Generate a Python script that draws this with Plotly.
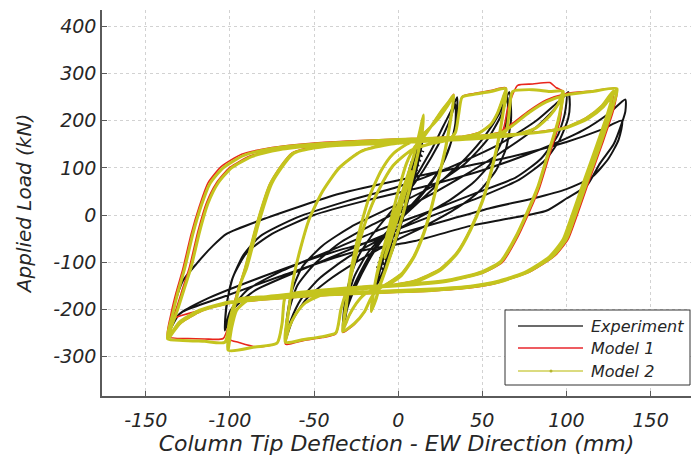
import plotly.graph_objects as go

# ---------------------------------------------------------------------------
# Cyclic column test: tip deflection (mm) vs. applied load (kN)
# Each path is listed as (deflection, load) readings in loading order.
# ---------------------------------------------------------------------------

# Experiment: low-amplitude elastic cycles (dense hatch near the origin)
EXP_HATCH = [
    (-13.1, -110), (-8.7, -116), (-12.1, -100), (-7.7, -106), (-11.2, -90), (-6.7, -96),
    (-10.2, -80), (-5.8, -86), (-9.2, -70), (-4.8, -76), (-8.3, -60), (-3.8, -66),
    (-7.3, -50), (-2.9, -56), (-6.3, -40), (-1.9, -46), (-5.4, -30), (-1.0, -36),
    (-4.4, -20), (0.0, -26), (-3.5, -10), (1.0, -16), (-2.5, 0), (1.9, -6),
    (-1.5, 10), (2.9, 4), (-0.6, 20), (3.8, 14), (0.4, 30), (4.8, 24),
    (1.3, 40), (5.8, 34), (2.3, 50), (6.7, 44), (3.3, 60), (7.7, 54),
    (4.2, 70), (8.7, 64), (5.2, 80), (9.6, 74), (6.2, 90), (10.6, 84),
    (7.1, 100), (11.5, 94), (8.1, 110), (12.5, 104), (9.0, 120), (13.5, 114),
    (10.0, 130), (14.4, 124), (11.0, 140), (15.4, 134),
]

# Experiment: main hysteresis path
EXP_PATH = [
    (0, 0), (4, 60), (8, 115), (6, 80), (2, 20), (-2, -30), (-6, -80), (-8, -110),
    (-5, -70), (-1, -15), (3, 40), (8, 112), (5, 70), (1, 10), (-3, -45), (-8, -108),
    (-4, -55), (0, 0),
    # +/-15 mm
    (4, 55), (9, 110), (13, 150), (15, 170), (13, 130), (9, 70), (5, 20), (0, -40),
    (-5, -90), (-10, -130), (-14, -155), (-11, -110), (-6, -50), (-1, 10), (5, 70),
    (10, 125), (14, 165), (12, 120), (8, 60), (3, 0), (-2, -55), (-8, -110), (-13, -150),
    # +/-33 mm
    (-9, -95), (-3, -30), (4, 40), (12, 90), (20, 140), (27, 190), (32, 225), (35, 250),
    (35, 215), (33, 175), (28, 120), (20, 70), (10, 25), (0, -15), (-10, -55), (-18, -100),
    (-25, -150), (-30, -195), (-33, -240),
    (-32, -195), (-29, -140), (-24, -90), (-16, -45), (-6, 0), (5, 45), (15, 95), (24, 150),
    (30, 195), (34, 235),
    (34, 195), (31, 150), (25, 100), (15, 50), (5, 10), (-5, -30), (-15, -75), (-23, -125),
    (-29, -175), (-32, -230),
    # +/-67 mm
    (-30, -180), (-26, -130), (-18, -80), (-5, -30), (10, 20), (25, 70), (40, 120), (52, 170),
    (60, 215), (66, 261),
    (67, 230), (67, 200), (64, 140), (58, 94), (48, 50), (35, 15), (15, -25), (-5, -60),
    (-25, -100), (-42, -140), (-55, -180), (-63, -225), (-67, -265),
    (-66, -215), (-63, -160), (-57, -110), (-45, -65), (-28, -25), (-5, 15), (20, 60),
    (40, 110), (53, 160), (61, 210), (65, 250),
    (65, 215), (62, 160), (55, 110), (45, 70), (30, 30), (10, -10), (-10, -50), (-30, -90),
    (-47, -135), (-58, -180), (-64, -225), (-67, -260),
    # +/-100 mm
    (-65, -205), (-60, -150), (-50, -105), (-35, -60), (-15, -20), (10, 25), (35, 75),
    (60, 130), (80, 180), (93, 225), (101, 261),
    (102, 235), (101, 205), (96, 160), (87, 115), (72, 75), (50, 40), (25, 5), (0, -30),
    (-30, -75), (-60, -120), (-85, -160), (-98, -200), (-103, -245),
    (-102, -195), (-99, -140), (-92, -85), (-82, -45), (-60, -5), (-30, 30), (0, 60),
    (30, 100), (60, 150), (82, 200), (95, 240), (100, 255),
    (99, 215), (95, 170), (85, 120), (70, 80), (45, 45), (20, 10), (-10, -30), (-40, -75),
    (-70, -120), (-90, -160), (-100, -205), (-103, -240),
    # +/-135 mm
    (-102, -190), (-98, -130), (-90, -80), (-75, -40), (-50, 0), (-20, 30), (15, 60),
    (50, 95), (85, 140), (110, 180), (125, 215), (135, 245),
    (135, 220), (133, 196), (128, 150), (120, 110), (112, 62), (100, 35), (88, 9), (65, -8),
    (43, -23), (10, -55), (-29, -81), (-70, -130), (-105, -175), (-128, -205), (-134, -225),
    (-136, -250),
    (-133, -190), (-128, -140), (-120, -104), (-110, -65), (-102, -40), (-78, -6), (-35, 45),
    (15, 85), (65, 122), (100, 155), (120, 180), (133, 200),
    (131, 160), (125, 120), (115, 80), (100, 55), (80, 35), (55, 15), (30, -10), (0, -40),
    (-40, -80), (-80, -130), (-115, -180), (-130, -210), (-135, -240),
]

# Model 1 response
MODEL1_PATH = [
    (0, 0), (4, 48), (8, 95), (4, 52), (0, 5), (-4, -42), (-8, -90), (-4, -48), (0, -3),
    (4, 46), (8, 93), (4, 50), (0, 4), (-4, -43), (-8, -92), (-4, -49), (-1, -2),
    # +/-15 mm
    (3, 55), (8, 110), (11, 150), (13, 180), (15, 212), (14, 170), (11, 120), (7, 60),
    (3, 5), (-2, -55), (-7, -110), (-11, -150), (-13, -175), (-16, -205),
    (-14, -150), (-11, -100), (-6, -45), (-2, 0), (3, 55), (8, 110), (11, 150), (13, 180),
    (15, 210), (14, 168), (11, 118), (7, 58), (3, 3), (-2, -57), (-7, -112), (-11, -152),
    (-13, -177), (-16, -204),
    # +/-33 mm
    (-14, -150), (-10, -90), (-5, -20), (0, 50), (5, 110), (10, 146), (15, 166), (20, 191),
    (26, 223), (30, 241), (33, 256),
    (31, 201), (28, 141), (24, 81), (20, 21), (15, -39), (9, -89), (2, -124), (-6, -144),
    (-12, -157), (-16, -176), (-20, -206), (-26, -232), (-33, -249),
    (-31, -201), (-29, -141), (-26, -81), (-22, -21), (-17, 39), (-10, 94), (-3, 129),
    (5, 150), (12, 164), (18, 183), (24, 206), (29, 231), (33, 253),
    (31, 199), (28, 139), (24, 79), (20, 19), (15, -41), (9, -91), (2, -127), (-6, -147),
    (-14, -157), (-20, -167), (-25, -189), (-29, -213), (-33, -246),
    # +/-67 mm
    (-31, -191), (-28, -131), (-24, -71), (-19, -11), (-12, 49), (-3, 104), (8, 138),
    (20, 153), (30, 161), (34, 176), (36, 216), (38, 251), (45, 258), (55, 264), (64, 270),
    (62, 211), (59, 151), (55, 91), (50, 31), (43, -29), (35, -79), (25, -114), (10, -139),
    (-5, -149), (-20, -155), (-30, -159), (-34, -201), (-37, -252), (-45, -260), (-56, -266),
    (-67, -274),
    (-65, -201), (-62, -131), (-58, -71), (-53, -11), (-45, 49), (-35, 101), (-22, 136),
    (-5, 151), (15, 159), (35, 165), (48, 175), (55, 193), (59, 217), (62, 246), (64, 267),
    (62, 209), (59, 149), (55, 89), (50, 29), (43, -31), (35, -81), (25, -116), (10, -141),
    (-10, -151), (-30, -158), (-45, -168), (-55, -185), (-61, -211), (-65, -241),
    (-67, -271),
    # +/-100 mm
    (-65, -201), (-62, -131), (-58, -71), (-53, -11), (-45, 49), (-35, 101), (-22, 136),
    (-5, 151), (15, 159), (35, 165), (55, 171), (62, 179), (65, 225), (71, 275), (80, 278),
    (90, 281), (94, 270), (98, 262),
    (95, 200), (89, 130), (83, 60), (77, 9), (70, -45), (61, -98), (50, -120), (30, -138),
    (5, -147), (-20, -152), (-41, -158), (-60, -165), (-67, -175), (-69, -232), (-72, -272),
    (-84, -280), (-95, -270), (-100, -264),
    (-99, -220), (-97, -180), (-94, -145), (-91, -112), (-84, -18), (-76, 68), (-63, 132),
    (-42, 148), (-10, 153), (20, 158), (50, 164), (70, 171), (82, 186), (90, 211), (95, 236),
    (98, 262),
    (96, 198), (90, 128), (84, 58), (78, 7), (71, -47), (62, -100), (51, -122), (30, -140),
    (5, -149), (-20, -154), (-41, -160), (-65, -168), (-80, -174), (-90, -182), (-96, -200),
    (-99, -235), (-100, -262),
    # +/-135 mm
    (-99, -215), (-97, -180), (-94, -145), (-90, -110), (-83, -16), (-75, 70), (-62, 133),
    (-42, 149), (-10, 154), (20, 159), (50, 165), (60, 175), (68, 195), (78, 222), (88, 244),
    (100, 258), (115, 263), (130, 268),
    (128, 225), (121, 150), (113, 70), (105, -12), (101, -49), (93, -85), (78, -119),
    (60, -140), (43, -151), (20, -157), (0, -160), (-20, -163), (-41, -166), (-70, -173),
    (-96, -180), (-100, -225), (-104, -262), (-115, -263), (-125, -262), (-137, -258),
    (-135, -210), (-132, -165), (-128, -115), (-123, -40), (-118, 20), (-113, 68),
    (-105, 103), (-93, 129), (-75, 143), (-55, 151), (-30, 157), (0, 161), (40, 167),
    (80, 175), (100, 186), (113, 207), (122, 232), (130, 267),
    (128, 223), (121, 148), (113, 68), (105, -14), (101, -51), (93, -87), (78, -121),
    (60, -142), (43, -153), (20, -159), (0, -162), (-20, -165), (-41, -168), (-70, -175),
    (-96, -183), (-115, -200), (-134, -221), (-137, -250),
    (-132, -200), (-128, -155), (-124, -110), (-119, -35), (-114, 25), (-108, 68),
    (-100, 101), (-88, 125), (-70, 140), (-50, 148), (-25, 154), (0, 159), (40, 166),
    (80, 175), (100, 187), (112, 207), (121, 232), (128, 263),
    (126, 221), (119, 147), (111, 67), (103, -15), (99, -53), (91, -89), (76, -123),
    (59, -144), (42, -155), (20, -161), (0, -164), (-20, -167), (-41, -170), (-70, -177),
    (-100, -187), (-117, -204), (-129, -229), (-136, -259),
]

# Model 2 response
MODEL2_PATH = [
    (0, 0), (4, 48), (8, 95), (4, 52), (0, 5), (-4, -42), (-8, -90), (-4, -48), (0, -3),
    (4, 46), (8, 93), (4, 50), (0, 4), (-4, -43), (-8, -92), (-4, -49), (-1, -2),
    # +/-15 mm
    (3, 55), (8, 110), (11, 150), (13, 180), (15, 212), (14, 170), (11, 120), (7, 60),
    (3, 5), (-2, -55), (-7, -110), (-11, -150), (-13, -175), (-16, -205),
    (-14, -150), (-11, -100), (-6, -45), (-2, 0), (3, 55), (8, 110), (11, 150), (13, 180),
    (15, 210), (14, 168), (11, 118), (7, 58), (3, 3), (-2, -57), (-7, -112), (-11, -152),
    (-13, -177), (-16, -204),
    # +/-33 mm
    (-14, -150), (-10, -90), (-5, -20), (0, 50), (5, 110), (10, 145), (15, 165), (20, 190),
    (26, 222), (30, 240), (33, 254),
    (31, 200), (28, 140), (24, 80), (20, 20), (15, -40), (9, -90), (2, -125), (-6, -145),
    (-12, -158), (-16, -175), (-20, -205), (-26, -230), (-33, -247),
    (-31, -200), (-29, -140), (-26, -80), (-22, -20), (-17, 40), (-10, 95), (-3, 130),
    (5, 150), (12, 163), (18, 182), (24, 205), (29, 230), (33, 252),
    (31, 198), (28, 138), (24, 78), (20, 18), (15, -42), (9, -92), (2, -128), (-6, -148),
    (-14, -158), (-20, -168), (-25, -188), (-29, -212), (-33, -245),
    # +/-67 mm
    (-31, -190), (-28, -130), (-24, -70), (-19, -10), (-12, 50), (-3, 105), (8, 138),
    (20, 152), (30, 160), (34, 175), (36, 215), (38, 250), (45, 256), (55, 262), (64, 268),
    (62, 210), (59, 150), (55, 90), (50, 30), (43, -30), (35, -80), (25, -115), (10, -140),
    (-5, -150), (-20, -156), (-30, -160), (-34, -200), (-37, -250), (-45, -258), (-56, -264),
    (-67, -270),
    (-65, -200), (-62, -130), (-58, -70), (-53, -10), (-45, 50), (-35, 100), (-22, 135),
    (-5, 150), (15, 158), (35, 164), (48, 174), (55, 192), (59, 216), (62, 245), (64, 266),
    (62, 208), (59, 148), (55, 88), (50, 28), (43, -32), (35, -82), (25, -117), (10, -142),
    (-10, -152), (-30, -159), (-45, -169), (-55, -186), (-61, -211), (-65, -240),
    (-67, -268),
    # +/-100 mm
    (-65, -200), (-62, -130), (-58, -70), (-53, -10), (-45, 50), (-35, 100), (-22, 135),
    (-5, 150), (15, 158), (35, 164), (55, 170), (64, 178), (66, 220), (68, 262), (80, 266),
    (90, 262), (98, 262),
    (95, 200), (89, 130), (83, 60), (77, 9), (70, -45), (61, -98), (50, -120), (30, -138),
    (5, -147), (-20, -152), (-41, -158), (-60, -165), (-67, -172), (-69, -230), (-72, -272),
    (-85, -280), (-101, -287),
    (-100, -240), (-97, -190), (-94, -150), (-91, -115), (-84, -20), (-76, 66), (-63, 130),
    (-42, 146), (-10, 152), (20, 157), (50, 163), (70, 170), (82, 185), (90, 210), (95, 235),
    (98, 262),
    (95, 198), (89, 128), (83, 58), (77, 7), (70, -47), (61, -100), (50, -122), (30, -140),
    (5, -149), (-20, -154), (-41, -160), (-65, -168), (-80, -174), (-90, -182), (-96, -202),
    (-99, -240), (-101, -285),
    # +/-135 mm
    (-100, -238), (-97, -188), (-94, -148), (-90, -112), (-83, -18), (-75, 68), (-62, 131),
    (-42, 147), (-10, 153), (20, 158), (50, 164), (60, 172), (68, 190), (78, 218), (88, 240),
    (100, 255), (115, 262), (130, 268),
    (127, 225), (120, 150), (112, 70), (104, -12), (100, -49), (92, -85), (77, -119),
    (60, -140), (43, -151), (20, -157), (0, -160), (-20, -163), (-41, -166), (-70, -173),
    (-96, -180), (-100, -220), (-103, -270), (-115, -268), (-128, -266), (-137, -263),
    (-134, -210), (-131, -165), (-127, -115), (-122, -40), (-117, 20), (-112, 66),
    (-104, 100), (-92, 126), (-75, 141), (-55, 149), (-30, 155), (0, 160), (40, 166),
    (80, 174), (100, 185), (113, 205), (122, 230), (130, 266),
    (127, 223), (120, 148), (112, 68), (104, -14), (100, -51), (92, -87), (77, -121),
    (60, -142), (43, -153), (20, -159), (0, -162), (-20, -165), (-41, -168), (-70, -175),
    (-101, -185), (-118, -202), (-130, -227), (-137, -262),
    (-131, -200), (-127, -155), (-123, -110), (-118, -35), (-113, 25), (-107, 68),
    (-99, 100), (-87, 124), (-70, 139), (-50, 147), (-25, 153), (0, 158), (40, 165),
    (80, 174), (100, 186), (112, 206), (121, 231), (128, 264),
    (125, 222), (118, 148), (110, 68), (102, -14), (98, -52), (90, -88), (75, -122),
    (58, -143), (41, -154), (20, -160), (0, -163), (-20, -166), (-41, -169), (-70, -176),
    (-100, -186), (-117, -203), (-129, -228), (-136, -260),
]

X_TICKS = [-150, -100, -50, 0, 50, 100, 150]
X_TICK_TEXT = ["-150", "-100", "-50", "0", "50", "100", "150"]
Y_TICKS = [-300, -200, -100, 0, 100, 200, 300, 400]
Y_TICK_TEXT = ["-300", "-200", "-100", "0", "100", "200", "300", "400"]
LEGEND_NAMES = ["Experiment", "Model 1", "Model 2"]

EXP_COLOR = "#141414"
M1_COLOR = "#e8261c"
M2_COLOR = "#c4c41e"
AXIS_COLOR = "#5a5a5a"
TEXT_COLOR = "#262626"
FONT = "DejaVu Sans, Liberation Sans, sans-serif"


def xs(path):
    return [p[0] for p in path]


def ys(path):
    return [p[1] for p in path]


fig = go.Figure()
fig.add_trace(go.Scatter(x=xs(EXP_HATCH), y=ys(EXP_HATCH), mode="lines",
                         line=dict(color=EXP_COLOR, width=1.2), showlegend=False,
                         hoverinfo="skip"))
fig.add_trace(go.Scatter(x=xs(EXP_PATH), y=ys(EXP_PATH), mode="lines",
                         line=dict(color=EXP_COLOR, width=2, shape="spline", smoothing=0.6),
                         name=LEGEND_NAMES[0], showlegend=False))
fig.add_trace(go.Scatter(x=xs(MODEL1_PATH), y=ys(MODEL1_PATH), mode="lines",
                         line=dict(color=M1_COLOR, width=1.6, shape="spline", smoothing=0.6),
                         name=LEGEND_NAMES[1], showlegend=False))
fig.add_trace(go.Scatter(x=xs(MODEL2_PATH), y=ys(MODEL2_PATH), mode="lines",
                         line=dict(color=M2_COLOR, width=3, shape="spline", smoothing=0.6),
                         name=LEGEND_NAMES[2], showlegend=False))

# Plot area in pixels: x 102..691, y 10..396
PL, PR, PT, PB = 102, 691, 10, 396


def px(x):
    return (x - PL) / (PR - PL)


def py(y):
    return (PB - y) / (PB - PT)


# Legend box drawn in paper coordinates
shapes = [dict(type="rect", xref="paper", yref="paper", layer="above",
               x0=px(505), x1=px(690), y0=py(385), y1=py(310),
               fillcolor="white", line=dict(color="#333333", width=1))]
legend_rows = [(326, "#3a3a3a"), (348, "#e8262c"), (371, "#cfcf55")]
annotations = []
for (row_y, color), name in zip(legend_rows, LEGEND_NAMES):
    shapes.append(dict(type="line", xref="paper", yref="paper", layer="above",
                       x0=px(518), x1=px(583), y0=py(row_y), y1=py(row_y),
                       line=dict(color=color, width=1.5)))
    annotations.append(dict(xref="paper", yref="paper", x=px(589), y=py(row_y),
                            text=name, showarrow=False, xanchor="left", yanchor="middle",
                            font=dict(family=FONT, size=16, color=TEXT_COLOR, style="italic")))
shapes.append(dict(type="circle", xref="paper", yref="paper", layer="above",
                   x0=px(549.5), x1=px(552.5), y0=py(372.5), y1=py(369.5),
                   fillcolor="#b5b530", line=dict(width=0)))

fig.update_layout(
    width=691, height=461,
    margin=dict(l=PL, r=691 - PR, t=PT, b=461 - PB),
    paper_bgcolor="white", plot_bgcolor="white",
    showlegend=False,
    shapes=shapes,
    annotations=annotations,
    font=dict(family=FONT, color=TEXT_COLOR),
)

fig.update_xaxes(
    range=[-176, 174], tickvals=X_TICKS, ticktext=X_TICK_TEXT, ticks="inside", ticklen=5,
    tickcolor=AXIS_COLOR, showline=True, linecolor=AXIS_COLOR, linewidth=1.5,
    showgrid=True, gridcolor="#d2d2d2", griddash="dot", gridwidth=1, zeroline=False,
    ticklabelstandoff=6,
    tickfont=dict(family=FONT, size=19, color=TEXT_COLOR, style="italic"),
    title=dict(text="Column Tip Deflection - EW Direction (mm)", standoff=6,
               font=dict(family=FONT, size=22, color=TEXT_COLOR, style="italic")),
)
fig.update_yaxes(
    range=[-384, 435], tickvals=Y_TICKS, ticktext=Y_TICK_TEXT, ticks="inside", ticklen=5,
    tickcolor=AXIS_COLOR, showline=True, linecolor=AXIS_COLOR, linewidth=1.5,
    showgrid=True, gridcolor="#d2d2d2", griddash="dot", gridwidth=1, zeroline=False,
    tickfont=dict(family=FONT, size=19, color=TEXT_COLOR, style="italic"),
    title=dict(text="Applied Load (kN)", standoff=16,
               font=dict(family=FONT, size=20, color=TEXT_COLOR, style="italic")),
)

fig.write_html("out.html")
